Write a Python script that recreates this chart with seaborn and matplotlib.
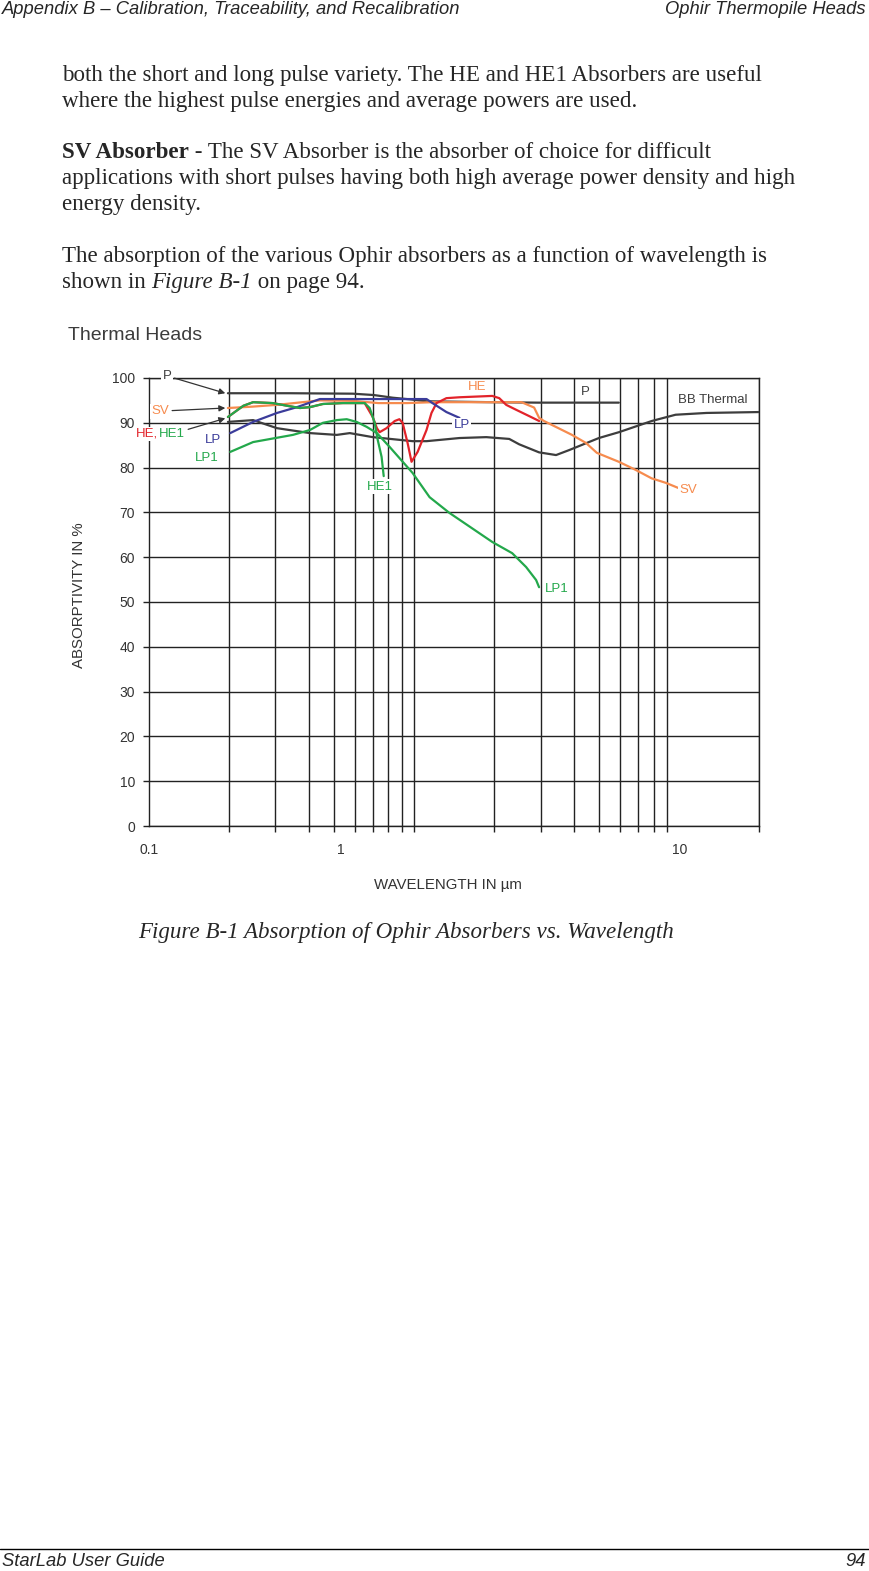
import seaborn as sns
from matplotlib import pyplot as plt
from matplotlib.lines import Line2D

W, H = 869, 1571

# absorptivity (%) vs wavelength (um)
p_wl = [0.1985, 0.342, 0.587, 0.704, 0.831, 0.978, 1.115, 1.956, 2.934, 5.92]
p_abs = [96.6, 96.6, 96.5, 96.2, 95.6, 95.2, 94.8, 94.6, 94.5, 94.5]

bb_wl = [0.1985, 0.247, 0.304, 0.405, 0.511, 0.572, 0.698, 0.987, 1.114, 1.483, 1.872,
         2.285, 2.491, 2.961, 3.432, 3.841, 4.978, 5.92, 7.877, 9.69, 12.68, 20.0]
bb_abs = [90.2, 90.6, 88.8, 87.7, 87.3, 87.7, 86.8, 85.9, 85.9, 86.6, 86.8,
          86.4, 85.2, 83.4, 82.8, 83.9, 86.6, 87.9, 90.4, 91.8, 92.2, 92.4]

sv_wl = [0.1985, 0.2445, 0.303, 0.352, 0.44, 0.587, 0.733, 0.939, 1.174, 1.956, 2.543,
         2.836, 2.963, 3.09, 3.941, 4.45, 4.89, 5.917, 6.846, 7.873, 8.90, 9.976]
sv_abs = [93.3, 93.6, 94.0, 94.4, 95.0, 94.9, 94.4, 94.4, 94.6, 94.6, 94.6,
          93.4, 91.1, 90.4, 87.3, 85.5, 83.3, 81.3, 79.5, 77.6, 76.6, 75.4]

he_wl = [0.1985, 0.227, 0.247, 0.293, 0.332, 0.371, 0.405, 0.453, 0.538, 0.607, 0.651,
         0.698, 0.724, 0.741, 0.787, 0.845, 0.880, 0.905, 0.945, 0.978, 1.031, 1.114,
         1.163, 1.215, 1.324, 1.483, 1.972, 2.095, 2.226, 2.427, 2.716, 2.963]
he_abs = [91.3, 93.8, 94.6, 94.4, 93.8, 93.3, 93.5, 94.2, 94.4, 94.4, 94.4,
          91.3, 88.8, 87.9, 88.8, 90.4, 90.8, 90.0, 85.5, 81.3, 83.5, 88.4,
          92.2, 94.4, 95.5, 95.7, 96.0, 95.5, 94.0, 92.9, 91.5, 90.4]

he1_wl = [0.1985, 0.227, 0.247, 0.293, 0.332, 0.371, 0.405, 0.453, 0.538, 0.607, 0.651,
          0.680, 0.710, 0.729, 0.754, 0.768]
he1_abs = [91.3, 93.8, 94.6, 94.4, 93.8, 93.3, 93.5, 94.2, 94.4, 94.4, 94.4,
           93.3, 90.0, 86.2, 82.4, 78.1]

lp_wl = [0.2025, 0.247, 0.304, 0.362, 0.441, 0.623, 1.114, 1.173, 1.324, 1.483]
lp_abs = [87.7, 90.2, 92.2, 93.5, 95.3, 95.3, 95.3, 94.4, 92.4, 91.1]

lp1_wl = [0.2025, 0.247, 0.349, 0.405, 0.453, 0.511, 0.557, 0.607, 0.662, 0.724, 0.809,
          0.987, 1.144, 1.358, 1.972, 2.344, 2.646, 2.886, 2.961]
lp1_abs = [83.5, 85.7, 87.3, 88.4, 90.0, 90.6, 90.8, 90.2, 89.1, 87.7, 84.6,
           78.8, 73.4, 69.9, 63.4, 60.9, 57.8, 54.9, 53.3]

grid_wl = [0.2, 0.3, 0.4, 0.5, 0.6, 0.7, 0.8, 0.9, 1, 2, 3, 4, 5, 6, 7, 8, 9, 10, 20]
y_ticks = list(range(0, 101, 10))
# in the source the "1" label sits left of the 1 um gridline
x_tick_pos = [0.1, 0.529, 10]
x_tick_lab = ['0.1', '1', '10']

GRAY = '#3d3d3d'
ORANGE = '#f68b4e'
RED = '#e2232a'
GREEN = '#23a84b'
BLUE = '#3b3c9a'
GRID = '#222222'
INK = '#333333'

sns.set_style("white")
plt.rcParams['font.family'] = ['Liberation Sans', 'DejaVu Sans']

fig = plt.figure(figsize=(W / 100, H / 100), dpi=100)


def fx(x):
    return x / W


def fy(y):
    return 1 - y / H


ax = fig.add_axes([fx(149), fy(826), (759 - 149) / W, (826 - 378) / H])

curves = [
    (p_wl, p_abs, GRAY),
    (bb_wl, bb_abs, GRAY),
    (sv_wl, sv_abs, ORANGE),
    (he_wl, he_abs, RED),
    (lp_wl, lp_abs, BLUE),
    (he1_wl, he1_abs, GREEN),
    (lp1_wl, lp1_abs, GREEN),
]
for wl, ab, col in curves:
    sns.lineplot(x=wl, y=ab, ax=ax, color=col, lw=1.6, sort=False, estimator=None, zorder=3)

ax.set_xscale('log')
ax.set_xlim(0.1, 20)
ax.set_ylim(0, 100)
ax.set_yticks(y_ticks)
ax.set_xticks(grid_wl, minor=True)
ax.set_xticks(x_tick_pos, x_tick_lab)
ax.xaxis.grid(False, which='major')
ax.xaxis.grid(True, which='minor', color=GRID, lw=1.0)
ax.yaxis.grid(True, which='major', color=GRID, lw=1.0)
ax.tick_params(axis='x', which='major', length=0, pad=12, labelsize=10, labelcolor=INK)
ax.tick_params(axis='x', which='minor', length=4, width=1, color=GRID, direction='out',
               labelbottom=False, bottom=True)
ax.tick_params(axis='y', which='major', length=4, width=1, color=GRID, direction='out',
               pad=6, labelsize=10, labelcolor=INK, left=True)
for s in ax.spines.values():
    s.set_color(GRID)
    s.set_linewidth(1.0)

ax.set_xlabel('WAVELENGTH IN \u00b5m', fontsize=10.8, color=INK)
ax.xaxis.set_label_coords(0.49, -0.117)
ax.set_ylabel('ABSORPTIVITY IN %', fontsize=10.8, color=INK)
ax.yaxis.set_label_coords(-0.104, 0.516)

# curve labels
lab = dict(fontsize=9.5, ha='center', va='center', clip_on=False, zorder=5)
arrow = dict(arrowstyle='-|>', color=INK, lw=0.9, mutation_scale=9, shrinkA=1, shrinkB=0)
wbox = dict(facecolor='white', edgecolor='none', pad=1)
ax.annotate('P', xy=(0.194, 96.6), xytext=(0.1172, 100.45), color=GRAY, arrowprops=arrow,
            bbox=wbox, **lab)
ax.annotate('SV', xy=(0.194, 93.3), xytext=(0.1104, 92.6), color=ORANGE, arrowprops=arrow,
            bbox=wbox, **lab)
ax.text(0.0978, 87.5, 'HE,', color=RED, bbox=wbox, **lab)
ax.annotate('HE1', xy=(0.194, 91.0), xytext=(0.1225, 87.5), color=GREEN, arrowprops=arrow,
            bbox=wbox, **lab)
ax.text(0.1747, 86.2, 'LP', color=BLUE, **lab)
ax.text(0.1658, 82.1, 'LP1', color=GREEN, **lab)
ax.text(1.732, 98.0, 'HE', color=ORANGE, **lab)
ax.text(1.511, 89.5, 'LP', color=BLUE, bbox=wbox, **lab)
ax.text(4.41, 96.9, 'P', color=GRAY, **lab)
ax.text(0.741, 75.7, 'HE1', color=GREEN, bbox=wbox, **lab)
lab['ha'] = 'left'
ax.text(9.93, 95.1, 'BB Thermal', color=GRAY, bbox=wbox, **lab)
ax.text(9.98, 75.0, 'SV', color=ORANGE, bbox=wbox, **lab)
ax.text(3.12, 52.9, 'LP1', color=GREEN, bbox=wbox, **lab)

fig.text(fx(68), fy(340), 'Thermal Heads', fontsize=14, color='#3c3c3c', va='baseline')

# page text around the chart
renderer = fig.canvas.get_renderer()
serif = ['Liberation Serif', 'DejaVu Serif']
BODY = 16.6


def runs(x, y, parts):
    for txt, weight, style in parts:
        t = fig.text(fx(x), fy(y), txt, family=serif, fontsize=BODY, weight=weight,
                     style=style, va='baseline')
        x += t.get_window_extent(renderer).width


body = [
    (81, [('both the short and long pulse variety. The HE and HE1 Absorbers are useful', 'normal', 'normal')]),
    (107, [('where the highest pulse energies and average powers are used.', 'normal', 'normal')]),
    (158, [('SV Absorber', 'bold', 'normal'),
           (' - The SV Absorber is the absorber of choice for difficult', 'normal', 'normal')]),
    (184, [('applications with short pulses having both high average power density and high', 'normal', 'normal')]),
    (210, [('energy density.', 'normal', 'normal')]),
    (262, [('The absorption of the various Ophir absorbers as a function of wavelength is', 'normal', 'normal')]),
    (288, [('shown in ', 'normal', 'normal'), ('Figure B-1', 'normal', 'italic'),
           (' on page 94.', 'normal', 'normal')]),
]
for yb, parts in body:
    runs(62, yb, parts)

fig.text(fx(138), fy(938), 'Figure B-1 Absorption of Ophir Absorbers vs. Wavelength',
         family=serif, fontsize=BODY, style='italic', va='baseline')

HF = 13.2
fig.text(fx(2), fy(14), 'Appendix B \u2013 Calibration, Traceability, and Recalibration',
         fontsize=HF, style='italic', va='baseline')
fig.text(fx(866), fy(14), 'Ophir Thermopile Heads', fontsize=HF, style='italic',
         va='baseline', ha='right')
fig.add_artist(Line2D([0, 1], [fy(1549), fy(1549)], color='black', lw=1))
fig.text(fx(2), fy(1566), 'StarLab User Guide', fontsize=HF, style='italic', va='baseline')
fig.text(fx(866), fy(1566), '94', fontsize=HF, style='italic', va='baseline', ha='right')

fig.savefig('out.png', dpi=100)
